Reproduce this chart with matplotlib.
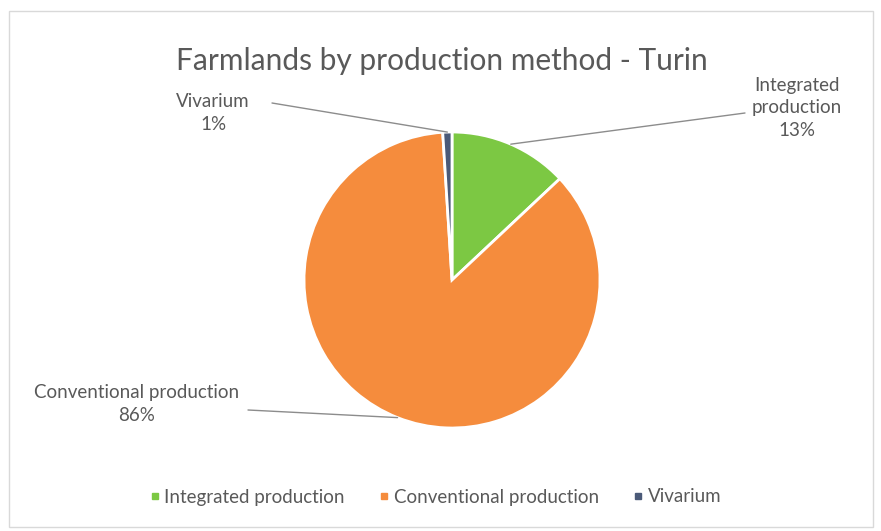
import numpy as np
import matplotlib.pyplot as plt
from matplotlib.patches import Rectangle

plt.rcParams['font.family'] = ['Lato', 'DejaVu Sans']

# dati
categorie = ['Integrated production', 'Conventional production', 'Vivarium']
etichette = ['Integrated\nproduction', 'Conventional production', 'Vivarium']
valori = [13, 86, 1]
colori = ['#7cc843', '#f58c3d', '#4b5a78']

W, H = 881, 531
fig = plt.figure(figsize=(W / 100, H / 100), dpi=100)

# cornice del grafico
fig.patches.append(Rectangle((9 / W, 4 / H), 864 / W, 516 / H, transform=fig.transFigure,
                             fill=False, edgecolor='#d9d9d9', linewidth=1))

cx, cy, r = 452, 280, 148
ax = fig.add_axes([(cx - r) / W, (H - cy - r) / H, 2 * r / W, 2 * r / H])
wedges, _ = ax.pie(valori, colors=colori, startangle=90, counterclock=False, radius=1,
                   wedgeprops=dict(edgecolor='white', linewidth=2))
ax.set_xlim(-1, 1)
ax.set_ylim(-1, 1)
ax.set_aspect('equal')
ax.axis('off')

fig.text(442 / W, 1 - 61 / H, 'Farmlands by production method - Turin',
         ha='center', va='center', fontsize=21.5, color='#595959')

# posizioni delle etichette (pixel) e punto di attacco della linea
pos_lab = [(797, 108), (137, 404), (213, 113)]
pos_linea = [(745, 113), (248, 410), (272, 103)]
for w, lab, v, p, pl in zip(wedges, etichette, valori, pos_lab, pos_linea):
    ang = np.deg2rad((w.theta1 + w.theta2) / 2)
    xy = (np.cos(ang), np.sin(ang))
    xl = pl[0] / W
    yl = 1 - pl[1] / H
    ax.annotate('', xy=xy, xycoords='data', xytext=(xl, yl), textcoords='figure fraction',
                arrowprops=dict(arrowstyle='-', color='#8c8c8c', linewidth=1, shrinkA=0, shrinkB=0))
    fig.text(p[0] / W, 1 - p[1] / H, f'{lab}\n{v}%', ha='center', va='center',
             fontsize=13.5, color='#595959', linespacing=1.4)

# legenda
handles = [plt.Line2D([], [], marker='s', linestyle='', color=c, markersize=5) for c in colori]
fig.legend(handles, categorie, loc='center', bbox_to_anchor=(0.492, 1 - 497 / H), ncol=3,
           frameon=False, fontsize=13.5, labelcolor='#595959', handletextpad=0.0,
           columnspacing=1.6, handlelength=1)

plt.savefig('out.png', dpi=100)
